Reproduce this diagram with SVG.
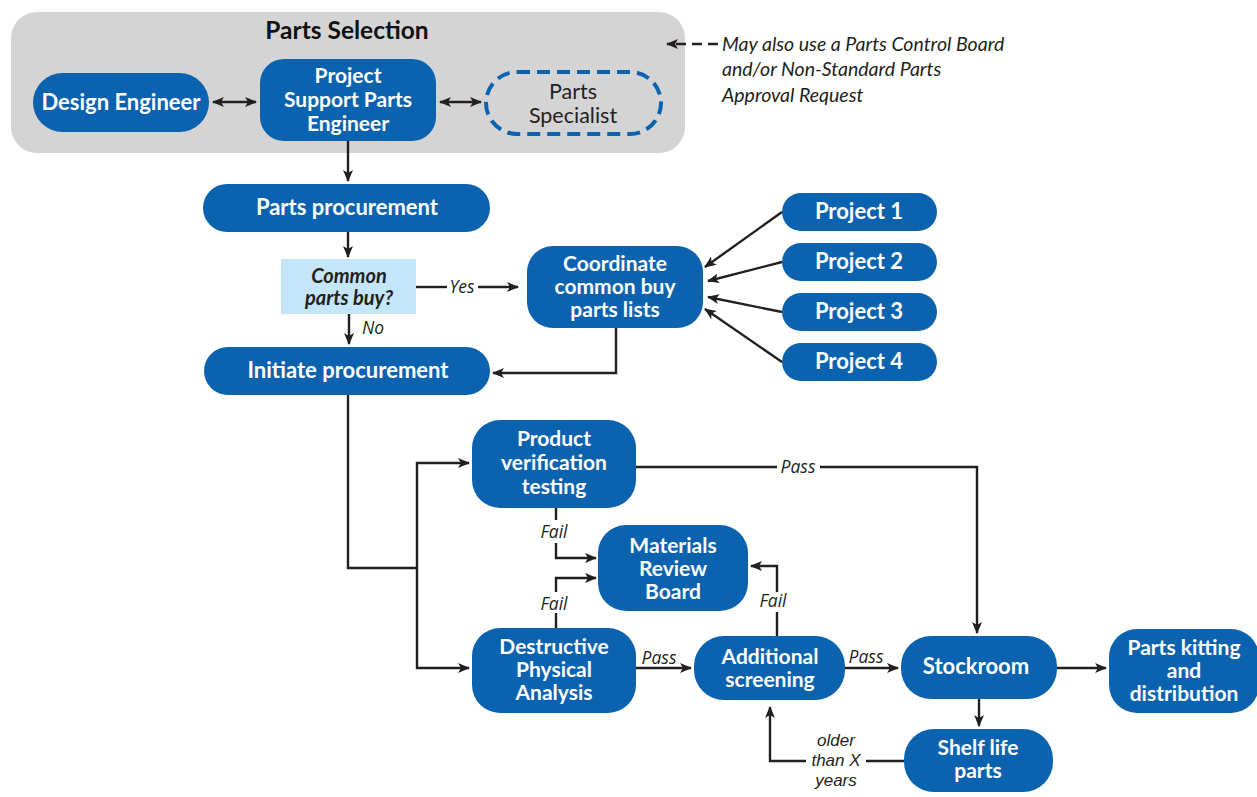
<svg xmlns="http://www.w3.org/2000/svg" width="1257" height="797" viewBox="0 0 1257 797">
<defs>
<marker id="ah" markerUnits="userSpaceOnUse" markerWidth="12" markerHeight="12" viewBox="0 0 12 12" refX="11" refY="6" orient="auto-start-reverse">
<path d="M0,1 L12,6 L0,11 L3,6 Z" fill="#231f20"/>
</marker>
</defs>
<style>
.n{fill:#0b63b0}
.t{font-family:Lato,"Open Sans","Liberation Sans",sans-serif;font-weight:bold;font-size:22px;fill:#fff;text-anchor:middle}
.m{font-size:21px}
.c{fill:none;stroke:#231f20;stroke-width:2.4}
.a{marker-end:url(#ah)}
.l{font-family:"Open Sans","Liberation Sans",sans-serif;font-style:italic;font-size:17.5px;fill:#231f20;text-anchor:middle}
.d{font-family:Lato,"Open Sans",sans-serif;font-size:21.5px;fill:#231f20;text-anchor:middle}
</style>
<rect width="1257" height="797" fill="#fff"/>
<g id="parts-selection">
<rect x="11" y="12" width="674" height="141" rx="26" fill="#d4d4d5"/>
<text x="347" y="39" font-family="Lato,'Open Sans',sans-serif" font-weight="bold" font-size="24.5" fill="#111" text-anchor="middle">Parts Selection</text>
</g>
<g id="design-engineer"><rect class="n" x="33" y="73" width="176" height="59" rx="29.5"/><text class="t" x="121" y="110">Design Engineer</text></g>
<g id="pspe"><rect class="n" x="260" y="59" width="176" height="82" rx="24"/><text class="t m" x="348" y="83">Project</text><text class="t m" x="348" y="107">Support Parts</text><text class="t m" x="348" y="131">Engineer</text></g>
<g id="parts-specialist"><rect x="486" y="72" width="175" height="62" rx="31" fill="none" stroke="#0b63b0" stroke-width="4" stroke-dasharray="13,7"/><text class="d" x="573" y="99">Parts</text><text class="d" x="573" y="123">Specialist</text></g>
<g id="note"><text font-family="Lato,'Open Sans',sans-serif" font-style="italic" font-size="19.5" fill="#231f20"><tspan x="722" y="51">May also use a Parts Control Board</tspan><tspan x="722" y="76">and/or Non-Standard Parts</tspan><tspan x="722" y="102">Approval Request</tspan></text></g>
<g id="parts-procurement"><rect class="n" x="203" y="184" width="287" height="48" rx="24"/><text class="t" x="347" y="215">Parts procurement</text></g>
<g id="common-parts-buy"><rect x="281" y="259" width="135" height="55" fill="#c5e6f8"/><text x="349" y="283" font-family="Lato,'Open Sans',sans-serif" font-weight="bold" font-style="italic" font-size="20" fill="#231f20" text-anchor="middle">Common</text><text x="349" y="305" font-family="Lato,'Open Sans',sans-serif" font-weight="bold" font-style="italic" font-size="20" fill="#231f20" text-anchor="middle">parts buy?</text></g>
<g id="initiate-procurement"><rect class="n" x="204" y="347" width="286" height="48" rx="24"/><text class="t" x="348" y="378">Initiate procurement</text></g>
<g id="coordinate"><rect class="n" x="527" y="246" width="176" height="82" rx="26"/><text class="t m" x="615" y="271">Coordinate</text><text class="t m" x="615" y="294">common buy</text><text class="t m" x="615" y="317">parts lists</text></g>
<g id="project1"><rect class="n" x="782" y="193" width="155" height="38" rx="19"/><text class="t" x="859" y="219">Project 1</text></g>
<g id="project2"><rect class="n" x="782" y="243" width="155" height="38" rx="19"/><text class="t" x="859" y="269">Project 2</text></g>
<g id="project3"><rect class="n" x="782" y="293" width="155" height="38" rx="19"/><text class="t" x="859" y="319">Project 3</text></g>
<g id="project4"><rect class="n" x="782" y="343" width="155" height="38" rx="19"/><text class="t" x="859" y="369">Project 4</text></g>
<g id="pvt"><rect class="n" x="472" y="420" width="164" height="88" rx="28"/><text class="t m" x="554" y="446">Product</text><text class="t m" x="554" y="470">verification</text><text class="t m" x="554" y="494">testing</text></g>
<g id="mrb"><rect class="n" x="598" y="525" width="150" height="86" rx="28"/><text class="t m" x="673" y="553">Materials</text><text class="t m" x="673" y="576">Review</text><text class="t m" x="673" y="599">Board</text></g>
<g id="dpa"><rect class="n" x="472" y="628" width="164" height="85" rx="28"/><text class="t m" x="554" y="654">Destructive</text><text class="t m" x="554" y="677">Physical</text><text class="t m" x="554" y="700">Analysis</text></g>
<g id="additional-screening"><rect class="n" x="694" y="636" width="151" height="64" rx="30"/><text class="t m" x="770" y="664">Additional</text><text class="t m" x="770" y="687">screening</text></g>
<g id="stockroom"><rect class="n" x="901" y="636" width="156" height="63" rx="30"/><text class="t" x="976" y="674">Stockroom</text></g>
<g id="parts-kitting"><rect class="n" x="1109" y="629" width="150" height="84" rx="28"/><text class="t m" x="1184" y="655">Parts kitting</text><text class="t m" x="1184" y="678">and</text><text class="t m" x="1184" y="701">distribution</text></g>
<g id="shelf-life"><rect class="n" x="904" y="729" width="149" height="63" rx="30"/><text class="t m" x="978" y="755">Shelf life</text><text class="t m" x="978" y="778">parts</text></g>
<g id="connectors">
<line class="c" x1="213" y1="102" x2="256" y2="102" marker-start="url(#ah)" marker-end="url(#ah)"/>
<line class="c" x1="440" y1="102" x2="481" y2="102" marker-start="url(#ah)" marker-end="url(#ah)"/>
<line class="c a" x1="718" y1="44" x2="667" y2="44" stroke-dasharray="10,6"/>
<line class="c a" x1="348" y1="141" x2="348" y2="181"/>
<line class="c a" x1="348" y1="232" x2="348" y2="257"/>
<path class="c" d="M416,287 H447"/>
<path class="c a" d="M478,287 H518"/>
<text class="l" x="462" y="293">Yes</text>
<line class="c a" x1="349" y1="314" x2="349" y2="344"/>
<text class="l" x="373" y="334">No</text>
<path class="c a" d="M616,328 V373 H493"/>
<line class="c a" x1="782" y1="212" x2="705" y2="267"/>
<line class="c a" x1="782" y1="262" x2="708" y2="281"/>
<line class="c a" x1="782" y1="312" x2="708" y2="297"/>
<line class="c a" x1="782" y1="362" x2="705" y2="309"/>
<path class="c" d="M348,395 V568 H417"/>
<path class="c a" d="M417,568 V463 H469"/>
<path class="c a" d="M417,568 V668 H469"/>
<path class="c" d="M636,467 H777"/>
<path class="c a" d="M820,467 H977 V633"/>
<text class="l" x="798" y="473">Pass</text>
<path class="c" d="M556,508 V520"/>
<path class="c a" d="M556,543 V558 H596"/>
<text class="l" x="554" y="538">Fail</text>
<path class="c" d="M556,628 V613"/>
<path class="c a" d="M556,592 V578 H596"/>
<text class="l" x="554" y="610">Fail</text>
<path class="c" d="M777,636 V612"/>
<path class="c a" d="M777,592 V566 H751"/>
<text class="l" x="773" y="607">Fail</text>
<line class="c a" x1="636" y1="668" x2="691" y2="668"/>
<text class="l" x="659" y="664">Pass</text>
<line class="c a" x1="845" y1="668" x2="898" y2="668"/>
<text class="l" x="866" y="663">Pass</text>
<line class="c a" x1="1057" y1="668" x2="1106" y2="668"/>
<line class="c a" x1="979" y1="699" x2="979" y2="726"/>
<path class="c" d="M904,761 H866"/>
<path class="c a" d="M806,761 H770 V707"/>
<text font-family="'Liberation Sans',Arial,sans-serif" font-style="italic" font-size="17" fill="#231f20" text-anchor="middle"><tspan x="836" y="746">older</tspan><tspan x="836" y="766">than X</tspan><tspan x="836" y="786">years</tspan></text>
</g>
</svg>
